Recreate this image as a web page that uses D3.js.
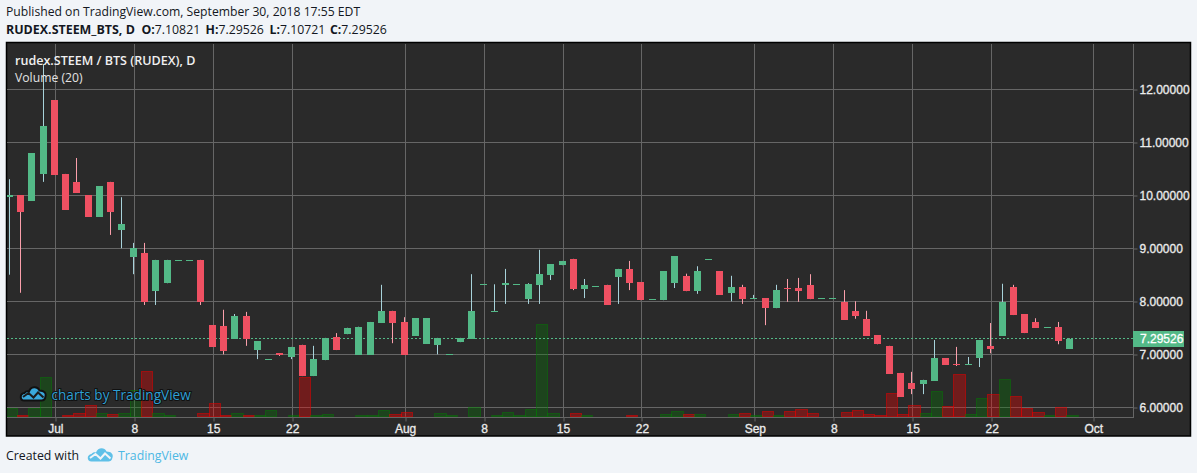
<!DOCTYPE html>
<html><head><meta charset="utf-8">
<style>html,body{margin:0;padding:0;background:#f1f4f8;overflow:hidden}svg{display:block}</style>
<script src="https://cdn.jsdelivr.net/npm/d3@7"></script>
</head><body><svg id="c" width="1197" height="473"></svg>
<script>
const startDate = "2018-06-27";
const opens = [9.97,10.00,9.89,10.40,11.79,10.40,10.25,10.00,9.59,10.25,9.34,8.83,8.91,8.19,8.34,8.77,8.77,8.78,7.55,7.53,7.29,7.72,7.08,6.91,7.02,6.95,7.18,6.59,6.89,7.33,7.38,6.99,6.99,7.59,7.82,7.61,7.35,7.20,7.18,7.00,7.23,7.29,8.32,7.82,8.31,8.33,8.04,8.31,8.49,8.68,8.80,8.23,8.29,8.31,8.46,8.61,8.36,8.04,8.02,8.34,8.48,8.19,8.79,8.57,8.16,8.27,8.06,8.06,7.87,8.25,8.25,8.31,8.06,8.06,7.99,7.82,7.67,7.36,7.16,6.65,6.46,6.44,6.50,6.93,6.82,6.81,6.93,7.16,7.35,8.27,7.76,7.61,7.51,7.51,7.10];
const highs = [10.30,10.00,10.79,12.47,11.79,10.40,10.70,10.00,10.17,10.25,9.96,9.10,9.10,8.78,8.78,8.77,8.77,8.78,7.55,7.84,7.76,7.80,7.25,6.91,7.02,7.14,7.18,7.16,7.31,7.40,7.50,7.52,7.61,8.31,7.82,7.70,7.68,7.68,7.31,7.00,7.31,8.51,8.32,8.32,8.61,8.33,8.34,8.97,8.70,8.76,8.80,8.42,8.29,8.31,8.61,8.76,8.36,8.04,8.57,8.85,8.52,8.66,8.79,8.57,8.48,8.31,8.12,8.06,8.31,8.42,8.44,8.51,8.06,8.06,8.21,8.00,7.82,7.36,7.16,6.65,6.67,6.52,7.27,6.93,7.14,6.95,7.27,7.59,8.33,8.31,7.76,7.68,7.51,7.61,7.30];
const lows = [8.50,8.16,9.89,10.25,10.38,9.72,10.04,9.59,9.59,9.25,9.00,8.51,7.93,7.93,8.34,8.77,8.77,7.93,7.14,7.00,7.29,7.16,6.91,6.91,6.97,6.91,6.59,6.59,6.89,7.08,7.38,6.99,6.99,7.59,7.21,6.99,7.35,7.20,7.00,7.00,7.23,7.29,8.32,7.82,7.95,8.33,7.95,7.95,8.40,8.68,8.21,8.06,8.29,7.93,7.95,8.21,8.02,8.04,8.02,8.25,8.19,8.14,8.79,8.12,8.00,7.95,8.06,7.55,7.87,7.99,7.99,8.04,8.06,8.06,7.65,7.67,7.35,7.19,6.63,6.20,6.25,6.25,6.50,6.80,6.78,6.81,6.76,7.02,7.35,7.74,7.40,7.50,7.51,7.19,7.10];
const closes = [10.00,9.68,10.79,11.30,10.38,9.72,10.04,9.59,10.17,9.68,9.46,9.00,7.99,8.78,8.78,8.77,8.77,7.99,7.14,7.06,7.72,7.28,7.25,6.91,6.99,7.14,6.59,6.91,7.31,7.08,7.50,7.52,7.61,7.82,7.59,6.99,7.68,7.68,7.31,7.00,7.31,7.82,8.32,7.82,8.34,8.33,8.33,8.51,8.70,8.76,8.23,8.31,8.29,7.93,8.61,8.34,8.02,8.04,8.57,8.85,8.19,8.57,8.79,8.12,8.27,8.04,8.06,7.87,8.21,8.23,8.19,8.04,8.06,8.06,7.65,7.72,7.35,7.19,6.63,6.20,6.35,6.52,6.93,6.80,6.80,6.81,7.27,7.10,7.99,7.74,7.40,7.50,7.51,7.25,7.29526];
const volumes = [8,1,8,39,0,1,3,11,3,2,3,26,45,3,1,0,0,3,13,1,3,1,1,6,0,1,39,1,2,0,0,1,1,6,2,4,0,0,3,1,0,9,0,1,4,1,7,92,3,0,3,1,0,0,0,1,0,0,2,5,2,2,0,0,2,3,1,5,1,5,7,3,0,0,4,6,2,1,23,2,11,3,25,10,42,2,18,22,37,20,8,4,1,9,1];
const priceTicks = [6,7,8,9,10,11,12];
const timeTicks = ["2018-07-01","2018-07-08","2018-07-15","2018-07-22","2018-08-01","2018-08-08","2018-08-15","2018-08-22","2018-09-01","2018-09-08","2018-09-15","2018-09-22","2018-10-01"];
const timeLabels = ["Jul","8","15","22","Aug","8","15","22","Sep","8","15","22","Oct"];
const lastPrice = 7.29526;
const headerLine = "Published on TradingView.com, September 30, 2018 17:55 EDT";
const symbolTitle = "RUDEX.STEEM_BTS, D";
const ohlcLabels = [["O:","7.10821"],["H:","7.29526"],["L:","7.10721"],["C:","7.29526"]];

const DAY = 864e5, t0 = Date.parse(startDate+"T00:00Z");
const data = opens.map((o,i)=>({date:new Date(t0+i*DAY),o,h:highs[i],l:lows[i],c:closes[i],v:volumes[i],up:closes[i]>=o}));
const UI = "'Open Sans',sans-serif", AX = "'Liberation Sans',Arial,sans-serif";
const L=7,T=44,PR=1133.5,PB=417;
const x = d3.scaleUtc().domain([new Date("2018-07-01T00:00Z"),new Date("2018-10-01T00:00Z")]).range([55.3,1093.3]);
const y = d3.scaleLinear().domain([6,12]).range([407.4,89]);
const yv = d3.scaleLinear().domain([0,100]).range([416,316]);
const snap = v=>Math.floor(v)+.5;
const GREEN="#53b987", RED="#ef5062", GW="#a7d2da", RW="#fb9fab", GRID="#666666";

const svg = d3.select("#c");
svg.append("rect").attr("x",6.5).attr("y",42.5).attr("width",1184).attr("height",393.5).attr("fill","#2a2a2a").attr("stroke","#000").attr("stroke-width",1.5);
svg.append("defs").append("clipPath").attr("id","plot").append("rect").attr("x",L).attr("y",T).attr("width",PR-L).attr("height",PB-T);

const head = svg.append("g").attr("font-family",UI).attr("fill","#131722");
head.append("text").attr("x",6).attr("y",15.5).attr("font-size",12.18).text(headerLine);
const l2 = head.append("g").attr("font-size",12.3);
l2.append("text").attr("x",6).attr("y",34).attr("font-weight",700).attr("font-size",12.45).text(symbolTitle);
const ohlcX = d3.scaleOrdinal().domain(ohlcLabels.map(d=>d[0])).range([141.5,205.5,269.5,330]);
ohlcLabels.forEach(([a,b])=>{
  const t = l2.append("text").attr("x",ohlcX(a)).attr("y",34);
  t.append("tspan").attr("font-weight",700).text(a);
  t.append("tspan").text(b);
});

// grid
const grid = svg.append("g");
grid.selectAll(".h").data(priceTicks).join("line").attr("x1",L).attr("x2",PR).attr("y1",d=>snap(y(d))).attr("y2",d=>snap(y(d))).attr("stroke",GRID);
const tickDates = timeTicks.map(s=>new Date(s+"T00:00Z"));
grid.selectAll(".v").data(tickDates).join("line").attr("x1",d=>snap(x(d))).attr("x2",d=>snap(x(d))).attr("y1",T).attr("y2",PB).attr("stroke",GRID);
grid.append("line").attr("x1",L).attr("x2",PR).attr("y1",PB+.5).attr("y2",PB+.5).attr("stroke",GRID);
grid.append("line").attr("x1",snap(PR)).attr("x2",snap(PR)).attr("y1",T).attr("y2",PB+1).attr("stroke",GRID);

// axes
const axisY = d3.axisRight(y).tickValues(priceTicks).tickSize(4).tickPadding(2).tickFormat(d3.format(".5f"));
const gy = svg.append("g").attr("transform",`translate(${snap(PR)},0)`).call(axisY);
const axisX = d3.axisBottom(x).tickValues(tickDates).tickSize(4).tickPadding(3).tickFormat((d,i)=>timeLabels[i]);
const gx = svg.append("g").attr("transform",`translate(0,${PB+.5})`).call(axisX);
[gy,gx].forEach(g=>{g.select(".domain").remove();g.selectAll("line").attr("stroke",GRID);
  g.selectAll("text").attr("font-family",AX).attr("font-size",12).attr("fill","#ececec").attr("stroke","#ececec").attr("stroke-width",.3);});
gy.selectAll(".tick line").attr("y1",0).attr("y2",0).attr("transform",d=>`translate(0,${snap(y(d))-y(d)})`);
gy.selectAll("text").attr("dy","0.37em");
gx.selectAll(".tick line").attr("transform",d=>`translate(${snap(x(d))-x(d)},0)`);

// volume
const plot = svg.append("g").attr("clip-path","url(#plot)");
plot.selectAll(".vol").data(data.filter(d=>d.v>0)).join("rect")
 .attr("x",d=>Math.round(x(d.date)-4.5)+.5)
 .attr("width",d=>Math.round(x(new Date(+d.date+DAY))-4.5)-Math.round(x(d.date)-4.5))
 .attr("y",d=>Math.round(yv(d.v))+.5).attr("height",d=>yv(0)-Math.round(yv(d.v)))
 .attr("fill",d=>d.up?"rgba(0,128,0,.3)":"rgba(255,0,0,.33)")
 .attr("stroke",d=>d.up?"rgba(0,128,0,.45)":"rgba(225,0,0,.55)");

// legend text
const leg = svg.append("g").attr("font-family",UI);
leg.append("text").attr("x",15).attr("y",65).attr("font-size",12.55).attr("fill","#f0f0f0").attr("font-weight",600).text("rudex.STEEM / BTS (RUDEX), D");
leg.append("text").attr("x",15).attr("y",82).attr("font-size",12.2).attr("fill","#e2e2e2").text("Volume (20)");

// watermark
const CLOUD="M4 15 C-1 15 -1 8 4 7.5 C5 6 7 5.5 8.5 6 C10 1 17 0 19 5 C24 5 26 8 25 11 C24.5 14 22.5 15 21 15 Z";
const ZIG="M2.5 11.5 L8 7.5 L13 12 L17.5 7 L23 12";
const wm = svg.append("g").attr("transform","translate(20.5,385.5)");
wm.append("path").attr("d",CLOUD).attr("fill","#3aa9dc").attr("stroke","#111").attr("stroke-width",2);
wm.append("path").attr("d",ZIG).attr("fill","none").attr("stroke","#1c1c1c").attr("stroke-width",2);
svg.append("text").attr("x",51.5).attr("y",400).attr("font-family",UI).attr("font-size",13.6).attr("fill","#2f9fd3").attr("stroke","#111").attr("stroke-width",2).attr("paint-order","stroke").text("charts by TradingView");

// price line
plot.append("line").attr("x1",L).attr("x2",PR).attr("y1",snap(y(lastPrice))).attr("y2",snap(y(lastPrice))).attr("stroke",GREEN).attr("stroke-dasharray","2,2");

// candles
const cx = d=>Math.floor(x(d.date))-1;
const c = plot.selectAll(".c").data(data).join("g");
c.filter(d=>d.h-d.l>0.02).append("line").attr("x1",d=>cx(d)+.5).attr("x2",d=>cx(d)+.5).attr("y1",d=>y(d.h)).attr("y2",d=>y(d.l)).attr("stroke",d=>d.up?GW:RW);
c.append("rect").attr("x",d=>cx(d)-3).attr("width",7)
 .attr("y",d=>Math.round(y(Math.max(d.o,d.c))))
 .attr("height",d=>Math.max(1,Math.round(y(Math.min(d.o,d.c)))-Math.round(y(Math.max(d.o,d.c)))))
 .attr("fill",d=>d.up?GREEN:RED);

// price badge
const by = snap(y(lastPrice));
svg.append("rect").attr("x",1133).attr("y",by-7.5).attr("width",51).attr("height",16).attr("fill",GREEN);
svg.append("text").attr("x",1140).attr("y",by+4.5).attr("font-family",AX).attr("font-size",12).attr("fill","#fff").attr("stroke","#fff").attr("stroke-width",.3).text(d3.format(".5f")(lastPrice));

// footer
const ft = svg.append("g").attr("font-family",UI).attr("font-size",12.3);
ft.append("text").attr("x",6).attr("y",460).attr("fill","#131722").text("Created with");
const fl = svg.append("g").attr("transform","translate(87.5,446.5)");
fl.append("path").attr("d",CLOUD).attr("fill","#5fc0e8");
fl.append("path").attr("d",ZIG).attr("fill","none").attr("stroke","#f1f4f8").attr("stroke-width",2);
ft.append("text").attr("x",118).attr("y",460).attr("fill","#4db8e4").text("TradingView");
</script></body></html>
